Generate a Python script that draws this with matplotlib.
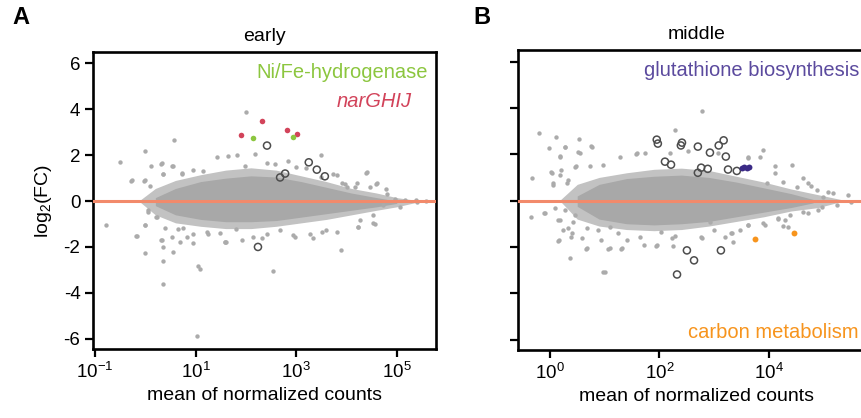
import numpy as np
import matplotlib
matplotlib.use('Agg')
from matplotlib import pyplot as plt

plt.rcParams['font.family'] = ['Liberation Sans', 'DejaVu Sans']
plt.rcParams['mathtext.fontset'] = 'custom'
plt.rcParams['mathtext.rm'] = 'Liberation Sans'
plt.rcParams['mathtext.it'] = 'Liberation Sans:italic'
plt.rcParams['axes.unicode_minus'] = False

# ---- panel A (early): log10(mean count), log2 fold change ----
a_gray_x = [0.57, 0.0, -0.51, 0.12, 0.32, 0.55, -0.29, -0.03, 0.35, 0.72, 0.95, 1.15, 1.43, 1.64,
            1.83, 2.19, 1.98, 2.41, 2.57, 2.84, 3.00, 3.49, 3.20, 3.50, 3.73, 3.98, 4.39, 4.16,
            4.59, 4.79, 4.96, 5.39, 5.59, -0.79, -0.18, 0.0, 0.05, 0.22, 0.0, 0.32, 0.35, 0.55,
            0.65, 0.82, 0.95, 1.25, 1.48, 1.61, 1.81, 2.14, 2.41, 2.67, 2.94, 3.27, 3.60, 3.90,
            4.23, 4.56, 5.06, 1.03, 0.35, 2.54, 1.05, 1.08, 0.36, 2.0, 1.58,
            0.33, 0.53, 0.35, 0.73, -0.26, -0.01, 0.09, 0.05, 0.23, -0.01, -0.17, 0.33, 0.53,
            0.69, 0.95, 1.23, 1.58, 1.92, 2.32, 0.39, 0.75,
            4.41, 4.61, 4.47, 4.81, 5.16, 5.40, 4.73, 4.53, 4.27, 4.53, 4.23, 3.81, 3.51, 3.33,
            2.98, 4.21, 4.01, 3.91, 3.81]
a_gray_y = [2.68, 2.17, 1.71, 1.52, 1.63, 1.52, 0.87, 0.87, 1.19, 1.22, 1.37, 1.33, 1.94, 1.96,
            2.02, 2.06, 1.55, 1.65, 1.63, 1.74, 1.48, 2.02, 1.43, 1.04, 1.16, 0.76, 1.23, 0.61,
            0.76, 0.54, 0.10, 0.03, -0.01, -1.03, -1.53, -1.06, -0.40, -0.70, -2.26, -1.71, -2.0,
            -2.22, -1.2, -1.57, -1.42, -1.42, -1.39, -1.78, -1.2, -1.57, -1.42, -1.27, -1.49,
            -1.42, -1.27, -2.12, -1.13, -1.01, -0.26, -5.88, -3.62, -3.05, -2.82, -2.95, -2.6,
            3.9, -1.8,
            1.64, 1.51, 1.2, 1.2, 0.9, 0.9, 0.64, -0.49, -0.71, -1.06, -1.54, -1.71, -1.58,
            -1.8, -1.84, -1.36, -1.8, -1.71, -1.62, -1.19, -1.19,
            1.25, 0.77, 0.6, 0.33, 0.03, -0.05, -0.19, -0.62, -0.84, -0.97, -1.14, -1.36, -1.36,
            -1.62, -1.58, 0.77, 0.6, 0.77, 1.12]
a_outer_x = [-0.1, 0.2, 0.6, 1.1, 1.6, 2.1, 2.6, 3.1, 3.6, 4.1, 4.6, 5.0, 5.4]
a_outer_hi = [0.05, 0.55, 0.9, 1.15, 1.35, 1.45, 1.35, 1.1, 0.85, 0.55, 0.35, 0.15, 0.03]
a_outer_lo = [-0.05, -0.6, -0.95, -1.1, -1.2, -1.2, -1.1, -0.95, -0.8, -0.6, -0.4, -0.25, -0.05]
a_inner_x = [0.2, 0.6, 1.1, 1.6, 2.1, 2.6, 3.1, 3.6, 4.1, 4.6, 5.0]
a_inner_hi = [0.15, 0.55, 0.85, 1.0, 1.1, 1.05, 0.85, 0.6, 0.35, 0.15, 0.0]
a_inner_lo = [-0.2, -0.6, -0.8, -0.9, -0.9, -0.85, -0.7, -0.55, -0.4, -0.25, -0.1]
a_open_x = [2.42, 2.68, 2.78, 3.25, 3.41, 3.57, 2.24]
a_open_y = [2.42, 1.03, 1.2, 1.69, 1.37, 1.08, -2.0]
nar_x = [1.90, 2.32, 2.82, 3.02]
nar_y = [2.86, 3.51, 3.12, 2.94]
hyd_x = [2.14, 2.94]
hyd_y = [2.73, 2.81]

# ---- panel B (middle) ----
b_gray_x = [2.77, 2.28, -0.19, 0.11, 0.53, -0.02, 0.27, 0.75, 0.52, 0.18, 0.48, 0.02, 0.21, -0.33,
            0.05, 0.33, 1.57, 1.73, 2.20, 2.52, 3.07, 3.61, 3.89, 4.10, 4.42, 4.62, 4.77, 5.07,
            5.44, -0.34, -0.10, 0.18, 0.33, 0.16, 0.39, 0.66, 0.36, 1.0, 1.06, 1.30, 1.72, 1.94,
            2.24, 2.28, 2.76, 3.31, 3.61, 3.92, 4.16, 4.25, 4.34, 4.71, 4.97, 5.50, 0.94, 1.24,
            2.03, 3.0, 0.15, 0.97,
            0.27, 0.77, 0.55, 0.18, 0.46, 0.04, 0.18, 0.73, 0.97, 1.28, 1.59, 0.05, 0.31, 0.09,
            -0.09, 0.27, 0.46, 0.15, 0.42, 0.24, 0.4, 0.58, 0.68, 0.88, 1.09, 0.68, 1.09, 1.31,
            1.64, 1.95, 2.23, 1.41,
            3.83, 3.61, 4.11, 3.96, 4.25, 4.71, 4.51, 4.87, 5.16, 4.98, 5.24, 4.89, 4.62, 4.38,
            4.16, 4.29, 3.89, 3.61, 3.47, 3.32, 3.19, 3.34, 2.77, 2.92]
b_gray_y = [3.87, 3.04, 2.93, 2.76, 2.64, 2.28, 2.30, 2.35, 2.09, 1.91, 1.51, 1.22, 1.30, 0.96,
            0.68, 0.90, 2.03, 2.06, 2.06, 2.13, 2.06, 1.84, 2.20, 1.48, 1.52, 0.97, 0.61, 0.39,
            0.25, -0.70, -0.55, -0.84, -1.20, -1.71, -1.56, -2.11, -2.48, -3.09, -2.11, -2.11,
            -1.90, -1.96, -1.96, -1.53, -1.59, -1.42, -1.06, -1.06, -0.77, -1.10, -1.13, -0.55,
            -0.26, -0.04, -1.71, -1.42, -1.35, -1.27, -1.76, -3.1,
            2.33, 2.33, 2.07, 1.9, 1.47, 1.2, 1.12, 1.51, 1.55, 1.86, 2.07, 0.77, 0.77, -0.32,
            -0.53, -0.4, -0.62, -0.84, -0.93, -1.27, -1.4, -1.62, -1.19, -1.27, -1.14, -2.06,
            -2.06, -2.06, -1.58, -1.93, -1.62, -1.71,
            1.86, 1.86, 1.2, 0.77, 0.81, 0.77, 0.6, 0.47, 0.33, 0.16, -0.19, -0.4, -0.49, -0.62,
            -0.8, -0.84, -0.97, -1.06, -1.27, -1.4, -1.58, -1.8, -1.62, -0.93]
b_outer_x = [0.2, 0.5, 0.9, 1.4, 1.9, 2.4, 2.9, 3.4, 3.9, 4.4, 4.9, 5.3]
b_outer_hi = [0.05, 0.7, 1.0, 1.2, 1.35, 1.4, 1.3, 1.05, 0.8, 0.5, 0.25, 0.05]
b_outer_lo = [-0.05, -0.8, -1.1, -1.25, -1.3, -1.25, -1.1, -0.9, -0.7, -0.45, -0.3, -0.05]
b_inner_x = [0.5, 0.9, 1.4, 1.9, 2.4, 2.9, 3.4, 3.9, 4.4, 4.8]
b_inner_hi = [0.2, 0.7, 0.95, 1.05, 1.1, 1.0, 0.8, 0.55, 0.3, 0.05]
b_inner_lo = [-0.25, -0.8, -1.0, -1.05, -1.0, -0.9, -0.7, -0.5, -0.3, -0.1]
b_open_x = [1.95, 1.97, 2.41, 2.39, 2.70, 2.92, 3.08, 3.17, 3.21, 2.10, 2.21, 2.76, 2.88, 2.70,
            3.25, 3.41, 2.5, 2.63, 2.32, 3.12]
b_open_y = [2.63, 2.46, 2.5, 2.38, 2.33, 2.07, 2.38, 2.6, 1.9, 1.68, 1.55, 1.42, 1.37, 1.2,
            1.34, 1.28, -2.15, -2.58, -3.19, -2.15]
glu_x = [3.50, 3.55, 3.60, 3.64]
glu_y = [1.41, 1.43, 1.42, 1.44]
carb_x = [3.74, 4.45]
carb_y = [-1.68, -1.4]

GRAY = '#ababab'
LINE = '#f28a6b'


def draw_panel(ax, gx, gy, ox, ohi, olo, ix, ihi, ilo, open_x, open_y, xlim):
    ax.fill_between(10 ** np.array(ox), ohi, olo, color='#c2c2c2', lw=0, zorder=2)
    ax.fill_between(10 ** np.array(ix), ihi, ilo, color='#a8a8a8', lw=0, zorder=2)
    ax.scatter(10 ** np.array(gx), gy, s=10, color=GRAY, lw=0, zorder=2)
    ax.axhline(0, color=LINE, lw=2.2, zorder=3)
    ax.scatter(10 ** np.array(open_x), open_y, s=26, facecolors='none',
               edgecolors='#4d4d4d', linewidths=1.1, zorder=4)
    ax.set_xscale('log')
    ax.set_xlim(10 ** xlim[0], 10 ** xlim[1])
    ax.set_ylim(-6.45, 6.5)
    ax.set_yticks([-6, -4, -2, 0, 2, 4, 6])
    ax.minorticks_off()
    for s in ax.spines.values():
        s.set_linewidth(1.9)
    ax.tick_params(direction='out', length=6, width=1.6, labelsize=13.5, pad=3)


fig = plt.figure(figsize=(8.62, 4.18), dpi=100)
ax1 = fig.add_axes([93 / 862, 1 - 349 / 418, 343 / 862, 297 / 418])
ax2 = fig.add_axes([518 / 862, 1 - 350 / 418, 357 / 862, 300 / 418])

draw_panel(ax1, a_gray_x, a_gray_y, a_outer_x, a_outer_hi, a_outer_lo,
           a_inner_x, a_inner_hi, a_inner_lo, a_open_x, a_open_y, (-1.04, 5.78))
ax1.scatter(10 ** np.array(nar_x), nar_y, s=16, color='#d2435a', lw=0, zorder=5)
ax1.scatter(10 ** np.array(hyd_x), hyd_y, s=16, color='#8cc63f', lw=0, zorder=5)
ax1.set_xticks([1e-1, 1e1, 1e3, 1e5])
ax1.set_xticklabels(['10$^{-1}$', '10$^{1}$', '10$^{3}$', '10$^{5}$'])
ax1.set_ylabel('log$_2$(FC)', fontsize=14, labelpad=7)
ax1.set_xlabel('mean of normalized counts', fontsize=14, labelpad=4)
ax1.set_title('early', fontsize=14, pad=8)
ax1.text(0.975, 0.93, 'Ni/Fe-hydrogenase', transform=ax1.transAxes, ha='right', va='center',
         color='#8cc63f', fontsize=14.5)
ax1.text(0.93, 0.835, 'narGHIJ', transform=ax1.transAxes, ha='right', va='center',
         color='#d2435a', fontsize=14.5, style='italic')

draw_panel(ax2, b_gray_x, b_gray_y, b_outer_x, b_outer_hi, b_outer_lo,
           b_inner_x, b_inner_hi, b_inner_lo, b_open_x, b_open_y, (-0.58, 5.93))
ax2.scatter(10 ** np.array(glu_x), glu_y, s=18, color='#3b2a86', lw=0, zorder=5)
ax2.scatter(10 ** np.array(carb_x), carb_y, s=18, color='#f7941d', lw=0, zorder=5)
ax2.set_xticks([1e0, 1e2, 1e4])
ax2.set_xticklabels(['10$^{0}$', '10$^{2}$', '10$^{4}$'])
ax2.set_yticklabels([])
ax2.set_xlabel('mean of normalized counts', fontsize=14, labelpad=4)
ax2.set_title('middle', fontsize=14, pad=8)
fig.text(859 / 862, 1 - 70 / 418, 'glutathione biosynthesis', ha='right', va='center',
         color='#5b4a9e', fontsize=14.5)
fig.text(859 / 862, 1 - 333 / 418, 'carbon metabolism', ha='right', va='center',
         color='#f7941d', fontsize=14.5)

fig.text(12 / 862, 1 - 18 / 418, 'A', fontsize=17, fontweight='bold', va='center')
fig.text(473 / 862, 1 - 18 / 418, 'B', fontsize=17, fontweight='bold', va='center')

fig.savefig('out.png', dpi=100)
